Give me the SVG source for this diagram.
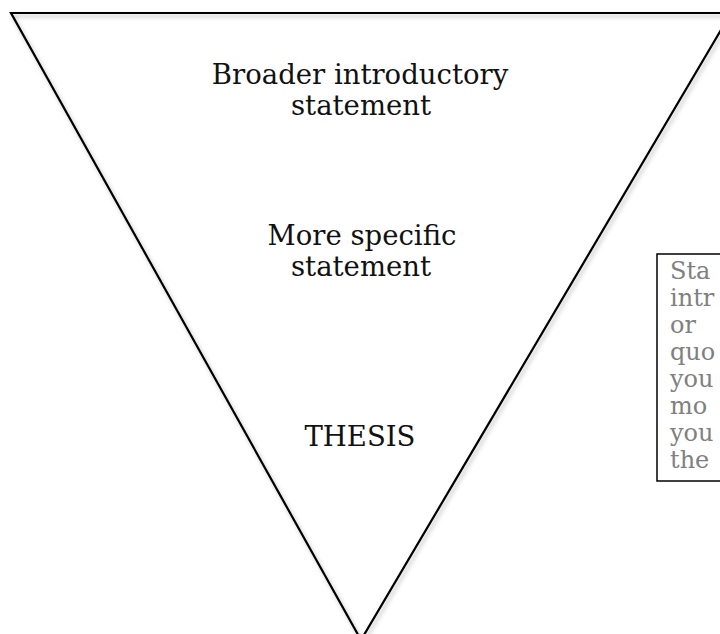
<svg xmlns="http://www.w3.org/2000/svg" width="720" height="634" viewBox="0 0 720 634">
<defs>
<filter id="sh" x="-10%" y="-10%" width="120%" height="120%">
<feDropShadow dx="2" dy="3" stdDeviation="2" flood-color="#000" flood-opacity="0.25"/>
</filter>
</defs>
<style>
.lbl{font-family:"DejaVu Serif","Liberation Serif",serif;font-size:27.5px;fill:#111;text-anchor:middle}
.note{font-family:"DejaVu Serif","Liberation Serif",serif;font-size:24px;fill:#808080}
</style>
<rect width="720" height="634" fill="#fff"/>
<g id="funnel">
<polygon points="11,13 731,13 361,640" fill="none" stroke="#000" stroke-width="2.2" filter="url(#sh)"/>
</g>
<g id="broad">
<text class="lbl" x="360" y="84">Broader introductory</text>
<text class="lbl" x="361" y="115">statement</text>
</g>
<g id="specific">
<text class="lbl" x="362" y="245">More specific</text>
<text class="lbl" x="361" y="276">statement</text>
</g>
<g id="thesis">
<text class="lbl" x="360" y="446">THESIS</text>
</g>
<g id="note">
<rect x="657" y="254" width="80" height="227" fill="#fff" stroke="#000" stroke-width="1.5"/>
<text class="note" x="670" y="279">Sta</text>
<text class="note" x="670" y="306">intr</text>
<text class="note" x="670" y="333">or</text>
<text class="note" x="670" y="360">quo</text>
<text class="note" x="670" y="387">you</text>
<text class="note" x="670" y="414">mo</text>
<text class="note" x="670" y="441">you</text>
<text class="note" x="670" y="468">the</text>
</g>
<g id="connectors"/>
</svg>
